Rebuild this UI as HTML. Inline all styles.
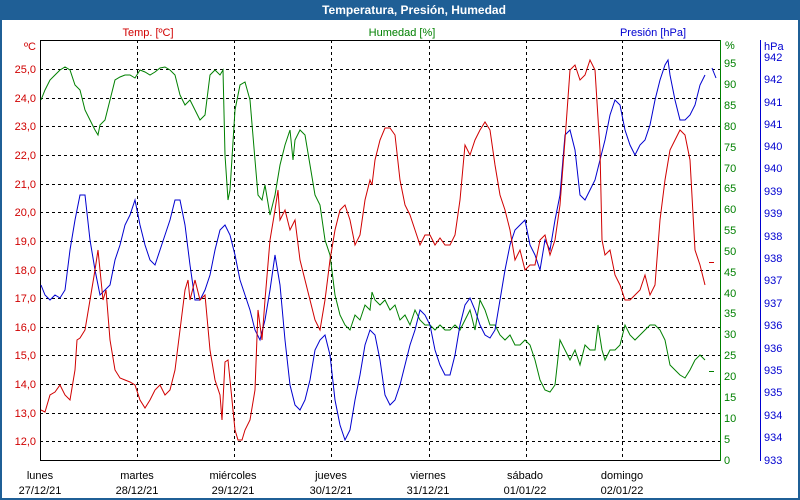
<!DOCTYPE html>
<html><head><meta charset="utf-8"><style>
html,body{margin:0;padding:0;width:800px;height:500px;overflow:hidden;background:#fff}
svg{display:block;font-family:"Liberation Sans",sans-serif}
</style></head><body>
<svg width="800" height="500" xmlns="http://www.w3.org/2000/svg">
<rect x="0" y="0" width="800" height="500" fill="#1f5f96"/>
<rect x="2" y="20" width="796" height="478" fill="#fff"/>
<text x="414" y="14" fill="#fff" font-size="12" font-weight="bold" text-anchor="middle">Temperatura, Presión, Humedad</text>
<text x="148" y="36" fill="#d00000" font-size="11" text-anchor="middle">Temp. [ºC]</text>
<text x="402" y="36" fill="#008000" font-size="11" text-anchor="middle">Humedad [%]</text>
<text x="653" y="36" fill="#0000d0" font-size="11" text-anchor="middle">Presión [hPa]</text>
<g stroke="#000" stroke-dasharray="3,3" stroke-width="1">
<line x1="40" y1="69.5" x2="720" y2="69.5"/><line x1="40" y1="98.5" x2="720" y2="98.5"/><line x1="40" y1="126.5" x2="720" y2="126.5"/><line x1="40" y1="155.5" x2="720" y2="155.5"/><line x1="40" y1="184.5" x2="720" y2="184.5"/><line x1="40" y1="212.5" x2="720" y2="212.5"/><line x1="40" y1="241.5" x2="720" y2="241.5"/><line x1="40" y1="270.5" x2="720" y2="270.5"/><line x1="40" y1="298.5" x2="720" y2="298.5"/><line x1="40" y1="327.5" x2="720" y2="327.5"/><line x1="40" y1="355.5" x2="720" y2="355.5"/><line x1="40" y1="384.5" x2="720" y2="384.5"/><line x1="40" y1="413.5" x2="720" y2="413.5"/><line x1="40" y1="441.5" x2="720" y2="441.5"/>
<line x1="137.5" y1="40" x2="137.5" y2="460"/><line x1="234.5" y1="40" x2="234.5" y2="460"/><line x1="331.5" y1="40" x2="331.5" y2="460"/><line x1="429.5" y1="40" x2="429.5" y2="460"/><line x1="526.5" y1="40" x2="526.5" y2="460"/><line x1="622.5" y1="40" x2="622.5" y2="460"/>
</g>
<line x1="40.5" y1="40" x2="40.5" y2="461" stroke="#000"/>
<line x1="40" y1="40.5" x2="720" y2="40.5" stroke="#000"/>
<line x1="40" y1="460.5" x2="720" y2="460.5" stroke="#000"/>
<line x1="720.5" y1="40" x2="720.5" y2="461" stroke="#008000"/>
<line x1="760.5" y1="40" x2="760.5" y2="461" stroke="#0000d0"/>
<line x1="709" y1="262.5" x2="714" y2="262.5" stroke="#d00000"/>
<line x1="709" y1="371.5" x2="714" y2="371.5" stroke="#008000"/>
<g fill="#d00000" font-size="11" text-anchor="end">
<text x="36" y="50">ºC</text>
<text x="36" y="73">25,0</text><text x="36" y="102">24,0</text><text x="36" y="130">23,0</text><text x="36" y="159">22,0</text><text x="36" y="188">21,0</text><text x="36" y="216">20,0</text><text x="36" y="245">19,0</text><text x="36" y="274">18,0</text><text x="36" y="302">17,0</text><text x="36" y="331">16,0</text><text x="36" y="359">15,0</text><text x="36" y="388">14,0</text><text x="36" y="417">13,0</text><text x="36" y="445">12,0</text>
</g>
<g fill="#008000" font-size="11">
<text x="725" y="49">%</text>
<text x="724" y="67">95</text><text x="724" y="88">90</text><text x="724" y="109">85</text><text x="724" y="130">80</text><text x="724" y="151">75</text><text x="724" y="172">70</text><text x="724" y="192">65</text><text x="724" y="213">60</text><text x="724" y="234">55</text><text x="724" y="255">50</text><text x="724" y="276">45</text><text x="724" y="297">40</text><text x="724" y="317">35</text><text x="724" y="338">30</text><text x="724" y="359">25</text><text x="724" y="380">20</text><text x="724" y="401">15</text><text x="724" y="422">10</text><text x="724" y="443">5</text><text x="724" y="464">0</text>
</g>
<g fill="#0000d0" font-size="11">
<text x="764" y="50">hPa</text>
<text x="764" y="61">942</text><text x="764" y="83">942</text><text x="764" y="106">941</text><text x="764" y="128">941</text><text x="764" y="150">940</text><text x="764" y="172">940</text><text x="764" y="195">939</text><text x="764" y="217">939</text><text x="764" y="240">938</text><text x="764" y="262">938</text><text x="764" y="284">937</text><text x="764" y="307">937</text><text x="764" y="329">936</text><text x="764" y="352">936</text><text x="764" y="374">935</text><text x="764" y="396">935</text><text x="764" y="419">934</text><text x="764" y="441">934</text><text x="764" y="464">933</text>
</g>
<g fill="#000" font-size="11" text-anchor="middle">
<text x="40" y="479">lunes</text><text x="40" y="494">27/12/21</text>
<text x="137" y="479">martes</text><text x="137" y="494">28/12/21</text>
<text x="233" y="479">miércoles</text><text x="233" y="494">29/12/21</text>
<text x="331" y="479">jueves</text><text x="331" y="494">30/12/21</text>
<text x="428" y="479">viernes</text><text x="428" y="494">31/12/21</text>
<text x="525" y="479">sábado</text><text x="525" y="494">01/01/22</text>
<text x="622" y="479">domingo</text><text x="622" y="494">02/01/22</text>
</g>
<polyline fill="none" stroke="#008000" stroke-width="1" points="41,100 45,90 50,80 55,75 60,70 65,67 70,70 75,85 80,90 85,110 90,120 95,130 98,135 100,125 105,120 110,100 115,80 120,77 125,75 130,75 135,78 140,70 145,72 150,75 155,72 160,68 165,67 170,70 175,75 180,95 185,105 190,100 195,110 200,120 205,115 210,75 215,70 220,75 223,70 225,155 228,200 230,190 235,110 240,85 245,82 250,100 255,160 258,195 262,200 265,185 270,215 275,195 280,165 285,145 290,130 293,160 295,140 300,130 305,135 310,165 315,195 320,205 325,240 330,255 335,295 340,315 345,325 350,330 355,315 360,320 365,305 370,310 372,292 375,300 380,305 385,300 390,310 395,305 400,320 405,315 410,325 415,310 420,320 425,325 430,325 435,330 440,325 445,330 450,330 455,325 460,330 465,320 470,310 475,330 480,300 485,310 490,325 495,325 500,335 505,340 510,335 515,345 520,345 525,340 530,345 535,360 540,380 545,390 550,392 555,385 560,340 565,350 570,360 575,350 580,365 585,345 590,350 595,350 598,325 602,350 605,360 610,350 615,350 620,345 625,325 630,335 635,340 640,335 645,330 650,325 655,325 660,330 665,340 670,365 675,370 680,375 685,378 690,370 695,360 700,355 705,360"/>
<polyline fill="none" stroke="#0000d0" stroke-width="1" points="41,285 45,295 50,300 55,295 60,298 65,290 70,250 75,220 80,195 85,195 90,240 95,270 100,295 105,290 110,285 115,260 120,245 125,225 130,215 135,200 140,225 145,245 150,260 155,265 160,250 165,235 170,220 175,200 180,200 185,225 190,265 195,300 200,300 205,290 210,275 215,250 220,230 225,225 230,235 235,255 240,280 245,295 250,310 255,330 260,340 265,320 270,290 275,255 280,285 285,340 290,385 295,405 300,410 305,400 310,380 315,350 320,340 325,335 330,355 335,400 340,425 345,440 350,430 355,400 360,375 365,345 370,330 375,335 380,360 385,395 390,405 395,400 400,385 405,365 410,345 415,330 420,310 425,315 430,325 435,350 440,365 445,375 450,375 455,355 460,325 465,305 470,298 475,310 480,325 485,335 490,338 495,330 500,300 505,270 510,245 515,230 520,225 525,220 530,245 535,255 540,270 545,240 550,250 555,220 560,195 565,135 570,130 575,150 580,195 585,200 590,190 595,180 600,160 605,140 610,115 615,100 620,105 625,130 630,145 635,155 640,145 645,140 650,125 655,100 660,80 665,65 668,60 670,75 675,100 680,120 685,120 690,115 695,105 700,85 705,75"/>
<polyline fill="none" stroke="#0000d0" stroke-width="1" points="712,68 716,78"/>
<polyline fill="none" stroke="#d00000" stroke-width="1" points="41,410 45,412 50,395 55,392 60,385 65,395 70,400 75,370 77,340 80,338 85,330 90,300 95,270 98,250 100,270 103,300 106,290 110,340 115,370 120,378 125,380 130,382 135,385 140,400 145,408 150,400 155,390 160,385 165,395 170,390 175,370 180,330 185,290 188,280 190,300 195,280 200,300 205,295 210,350 215,380 220,395 222,420 225,362 228,360 230,380 235,430 238,440 242,440 245,430 250,420 255,390 258,310 262,340 265,300 270,240 275,210 278,190 280,220 285,210 290,230 295,220 300,260 305,280 310,300 315,320 320,330 325,300 330,260 335,230 340,210 345,205 350,220 355,245 360,235 365,200 370,180 372,185 375,160 380,140 385,128 390,128 395,135 400,180 405,205 410,215 415,230 420,245 425,235 430,235 435,245 440,238 445,245 450,245 455,235 460,200 465,145 470,155 475,140 480,130 485,122 490,130 495,165 500,195 505,210 510,230 515,260 520,250 525,270 530,265 535,265 540,240 545,235 550,255 555,240 560,205 565,140 570,70 575,65 580,80 585,75 590,60 595,70 600,150 602,240 605,255 610,250 615,275 620,285 625,300 630,300 635,295 640,290 645,275 650,295 655,285 660,220 665,180 670,150 675,140 680,130 685,135 690,160 695,250 700,265 705,285"/>
</svg>
</body></html>
